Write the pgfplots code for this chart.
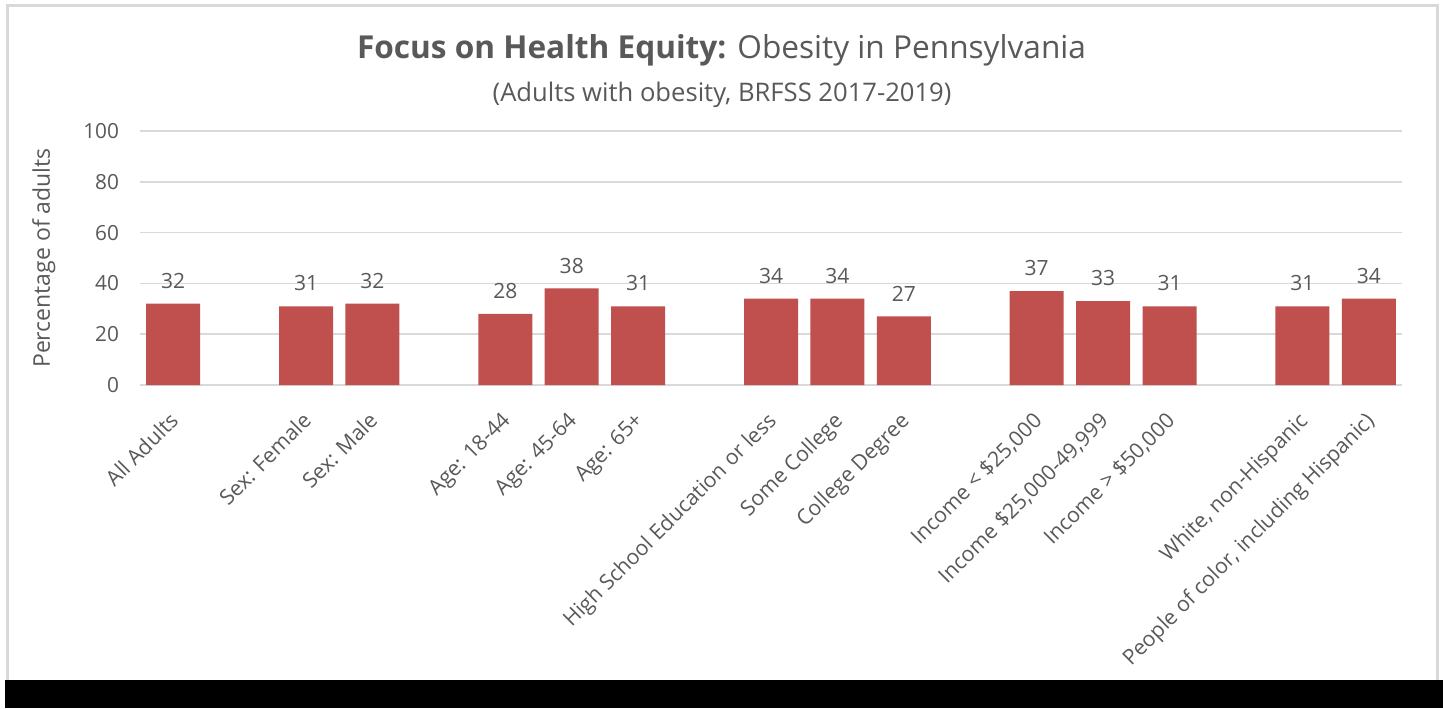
\documentclass[border=0pt]{standalone}
\usepackage{pgfplots}
\pgfplotsset{compat=1.18}
\usepackage{fontspec}
\setmainfont{Open Sans}
\definecolor{txt}{HTML}{595959}
\definecolor{barred}{HTML}{C0504D}
\definecolor{gridc}{HTML}{D9D9D9}
\begin{document}
\begin{tikzpicture}
\path[use as bounding box] (0,0) rectangle (721.5pt,354pt);
\fill[white] (0,0) rectangle (721.5pt,354pt);
\draw[gridc,line width=1.5pt] (3.5pt,0) -- (3.5pt,351pt) -- (718.5pt,351pt) -- (718.5pt,0);
\fill[black] (2.5pt,0) rectangle (721.5pt,14pt);
\node[txt,font=\fontsize{15.8}{18}\selectfont] at (360.75pt,329pt) {\textbf{Focus on Health Equity:} Obesity in Pennsylvania};
\node[txt,font=\fontsize{12.8}{15}\selectfont] at (361pt,306.5pt) {(Adults with obesity, BRFSS 2017-2019)};
\begin{axis}[
  at={(70pt,161.5pt)}, anchor=south west,
  width=631pt, height=127pt, scale only axis,
  xmin=-0.5, xmax=18.5, ymin=0, ymax=100,
  ytick={0,20,...,100},
  xtick={0,2,3,5,6,7,9,10,11,13,14,15,17,18},
  xticklabels={All Adults,Sex: Female,Sex: Male,Age: 18-44,Age: 45-64,Age: 65+,High School Education or less,Some College,College Degree,{Income < \$25,000},{Income \$25,000-49,999},{Income > \$50,000},{White, non-Hispanic},{People of color, including Hispanic)}},
  x tick label style={xshift=-2.5pt, yshift=-8pt, rotate=45, anchor=north east, font=\fontsize{10.6}{12}\selectfont, text=txt},
  y tick label style={font=\fontsize{10.4}{12}\selectfont, text=txt, xshift=-7pt},
  /pgf/number format/assume math mode=true,
  ymajorgrids, grid style={draw=gridc, line width=0.8pt},
  axis x line*=bottom, axis y line*=left,
  x axis line style={draw=gridc, line width=0.8pt, -},
  y axis line style={draw=none},
  major tick length=0pt,
  ylabel={Percentage of adults},
  ylabel style={font=\fontsize{11.5}{13}\selectfont, text=txt, yshift=7pt},
  clip=false,
]
\addplot[ybar, bar width=27pt, fill=barred, draw=none,
  nodes near coords, every node near coord/.append style={font=\fontsize{10.5}{12}\selectfont, text=txt, yshift=4pt}]
  coordinates {(0,32) (2,31) (3,32) (5,28) (6,38) (7,31) (9,34) (10,34) (11,27) (13,37) (14,33) (15,31) (17,31) (18,34)};
\end{axis}
\end{tikzpicture}
\end{document}
